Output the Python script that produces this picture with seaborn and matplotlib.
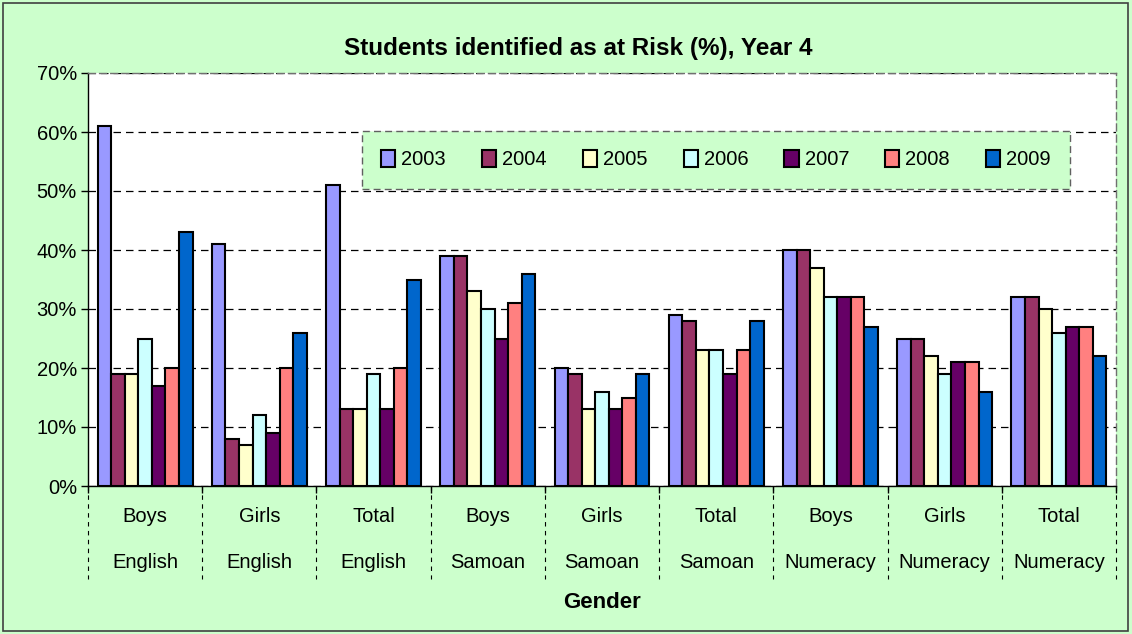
import matplotlib
matplotlib.use("Agg")
import matplotlib.pyplot as plt
import matplotlib.transforms as mtransforms
from matplotlib.patches import Rectangle
import seaborn as sns
import pandas as pd

# data
genders = ["Boys", "Girls", "Total", "Boys", "Girls", "Total", "Boys", "Girls", "Total"]
subjects = ["English", "English", "English", "Samoan", "Samoan", "Samoan",
            "Numeracy", "Numeracy", "Numeracy"]
years = ["2003", "2004", "2005", "2006", "2007", "2008", "2009"]
y2003 = [61, 41, 51, 39, 20, 29, 40, 25, 32]
y2004 = [19, 8, 13, 39, 19, 28, 40, 25, 32]
y2005 = [19, 7, 13, 33, 13, 23, 37, 22, 30]
y2006 = [25, 12, 19, 30, 16, 23, 32, 19, 26]
y2007 = [17, 9, 13, 25, 13, 19, 32, 21, 27]
y2008 = [20, 20, 20, 31, 15, 23, 32, 21, 27]
y2009 = [43, 26, 35, 36, 19, 28, 27, 16, 22]
colors = ["#9999FF", "#993366", "#FFFFCC", "#CCFFFF", "#660066", "#FF8080", "#0066CC"]

series = [y2003, y2004, y2005, y2006, y2007, y2008, y2009]
groups = [f"{g}\n{s}" for g, s in zip(genders, subjects)]
rows = []
for yr, vals in zip(years, series):
    for grp, v in zip(groups, vals):
        rows.append({"group": grp, "year": yr, "value": v})
df = pd.DataFrame(rows)

sns.set_style("white")
plt.rcParams["font.family"] = ["Liberation Sans", "DejaVu Sans"]
plt.rcParams["text.color"] = "black"
plt.rcParams["axes.labelcolor"] = "black"
plt.rcParams["xtick.color"] = "black"
plt.rcParams["ytick.color"] = "black"

bg = "#CCFFCC"
fig = plt.figure(figsize=(11.32, 6.34), dpi=100, facecolor=bg)
ax = fig.add_axes([88 / 1132, 1 - 486 / 634, 1028 / 1132, 413 / 634])
ax.set_facecolor("white")

sns.barplot(data=df, x="group", y="value", hue="year", order=groups, hue_order=years,
            palette=colors, width=0.83, edgecolor="black", linewidth=1.5,
            saturation=1, ax=ax, zorder=3)

ax.set_ylim(0, 70)
ax.set_xlim(-0.5, len(groups) - 0.5)
ax.set_yticks(range(0, 71, 10))
ax.set_yticklabels([f"{v}%" for v in range(0, 71, 10)], fontsize=14.5)
ax.yaxis.grid(True, color="black", linestyle=(0, (6, 4)), linewidth=0.9)
ax.set_axisbelow(True)
ax.tick_params(axis="y", left=True, length=5, width=1, color="black", pad=3)

# x axis: ticks at group boundaries, labels drawn below in two rows
ax.set_xticks([i - 0.5 for i in range(len(groups) + 1)])
ax.set_xticklabels([])
ax.tick_params(axis="x", bottom=True, length=5, width=1, color="black")
ax.set_xlabel("")
ax.set_ylabel("")

trans = mtransforms.blended_transform_factory(ax.transData, ax.transAxes)
for i, (g, s) in enumerate(zip(genders, subjects)):
    ax.text(i, -0.075, g, transform=trans, ha="center", va="center", fontsize=14.5)
    ax.text(i, -0.185, s, transform=trans, ha="center", va="center", fontsize=14.5)
for i in range(len(groups) + 1):
    ax.plot([i - 0.5, i - 0.5], [0, -0.225], transform=trans, color="black",
            linestyle=(0, (4, 4)), linewidth=0.8, clip_on=False)

ax.text(0.5, -0.283, "Gender", transform=ax.transAxes, ha="center", va="center",
        fontsize=16, fontweight="bold")
ax.set_title("Students identified as at Risk (%), Year 4", fontsize=17.5,
             fontweight="bold", pad=13, x=0.477)

for side in ["top", "right"]:
    ax.spines[side].set_color("#707070")
    ax.spines[side].set_linestyle((0, (5, 3)))
    ax.spines[side].set_linewidth(1)
for side in ["left", "bottom"]:
    ax.spines[side].set_color("black")
    ax.spines[side].set_linewidth(1)

leg = ax.legend(loc="upper left", bbox_to_anchor=(274 / 1028, 1 - 117 / 413, 708 / 1028, 59 / 413),
                mode="expand", ncol=7, frameon=True, fontsize=14.5, handlelength=0.7,
                handleheight=0.9, handletextpad=0.3, borderaxespad=0, borderpad=0.95,
                fancybox=False, columnspacing=1.0)
frame = leg.get_frame()
frame.set_facecolor(bg)
frame.set_alpha(1)
frame.set_edgecolor("#606060")
frame.set_linestyle((0, (5, 3)))
frame.set_linewidth(1)

fig.patches.append(Rectangle((3 / 1132, 3 / 634), 1125 / 1132, 628 / 634,
                             transform=fig.transFigure, fill=False,
                             edgecolor="#404040", linewidth=1.2))

fig.savefig("out.png", dpi=100, facecolor=bg)
